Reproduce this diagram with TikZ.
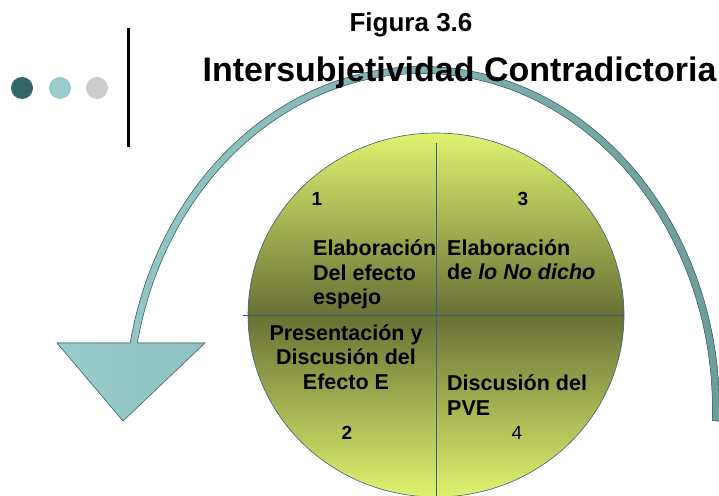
\documentclass[tikz,border=0pt]{standalone}
\usepackage{fontspec}
\setmainfont{Liberation Sans}
\usetikzlibrary{positioning, shapes.geometric}
\definecolor{dotdark}{RGB}{51,102,102}
\definecolor{dotlight}{RGB}{153,204,204}
\definecolor{dotgray}{RGB}{204,204,204}
\definecolor{arclight}{RGB}{153,204,204}
\definecolor{arcdark}{RGB}{110,156,152}
\definecolor{arcline}{RGB}{66,114,112}
\definecolor{disctop}{RGB}{224,242,112}
\definecolor{discmid}{RGB}{104,112,52}
\definecolor{discline}{RGB}{58,98,128}
\tikzset{
  dotmark/.style={circle, inner sep=0pt, minimum size=22pt},
  ttl/.style={font=\bfseries\fontsize{34}{40}\selectfont, inner sep=0pt},
  figlbl/.style={font=\bfseries\fontsize{26}{30}\selectfont, inner sep=0pt},
  qbox/.style={font=\bfseries\fontsize{21.5}{24.5}\selectfont, inner sep=0pt, align=left},
  qnum/.style={font=\bfseries\fontsize{19}{22}\selectfont, inner sep=0pt},
  divline/.style={draw=discline, line width=0.7pt},
}

\begin{document}
\begin{tikzpicture}[x=1pt, y=1pt]
\useasboundingbox (0,0) rectangle (719,495);
% bullets and bar
\node[dotmark, fill=dotdark] (d1) at (22,407) {};
\node[dotmark, fill=dotlight] (d2) at (60,407) {};
\node[dotmark, fill=dotgray] (d3) at (97,407) {};
\coordinate (bartop) at (128,467);
\coordinate (barbot) at (128,348);
\draw[line width=3pt] (bartop) -- (barbot);
% curved arrow (band + head)
\coordinate (c) at (422,85);
\filldraw[left color=arclight, right color=arcdark, draw=arcline, line width=0.6pt]
  ([shift={(c)}]-1.85:297.5 and 343.5)
  arc[start angle=-1.85, end angle=168.75, x radius=297.5, y radius=343.5]
  -- (57,152) -- (123,74) -- (205,152)
  -- ([shift={(c)}]168.51:290.5 and 336.5)
  arc[start angle=168.51, end angle=-1.85, x radius=290.5, y radius=336.5]
  -- cycle;
% titles
\node[figlbl, anchor=base] (fig) at (411,463) {Figura 3.6};
\node[ttl, anchor=base] (title) at (459.5,413) {Intersubjetividad Contradictoria};
% disc
\node[ellipse, minimum width=376pt, minimum height=364pt, draw=discline, line width=0.6pt,
      top color=disctop, bottom color=disctop, middle color=discmid] (disc) at (436,180) {};
\coordinate (hstart) at ([xshift=-5pt]disc.west);
\coordinate (vstart) at ([yshift=-10pt]disc.north);
\draw[divline] (hstart) -- (disc.east);
\draw[divline] (vstart) -- (disc.south);
% quadrant texts (base = last line)
\node[qbox, anchor=base west] (q1) at (313,190) {Elaboración\\Del efecto\\espejo};
\node[qbox, anchor=base west] (q3) at (447,215) {Elaboración\\de \textit{lo No dicho}};
\node[qbox, anchor=base, align=center] (q2) at (346,106) {Presentación y\\Discusión del\\Efecto E};
\node[qbox, anchor=base west] (q4) at (447,80) {Discusión del\\PVE};
\node[qnum] (n1) at (317,296) {1};
\node[qnum] (n3) at (523,296) {3};
\node[qnum] (n2) at (347,62) {2};
\node[qnum, font=\fontsize{19}{22}\selectfont] (n4) at (517,62) {4};
\end{tikzpicture}
\end{document}
